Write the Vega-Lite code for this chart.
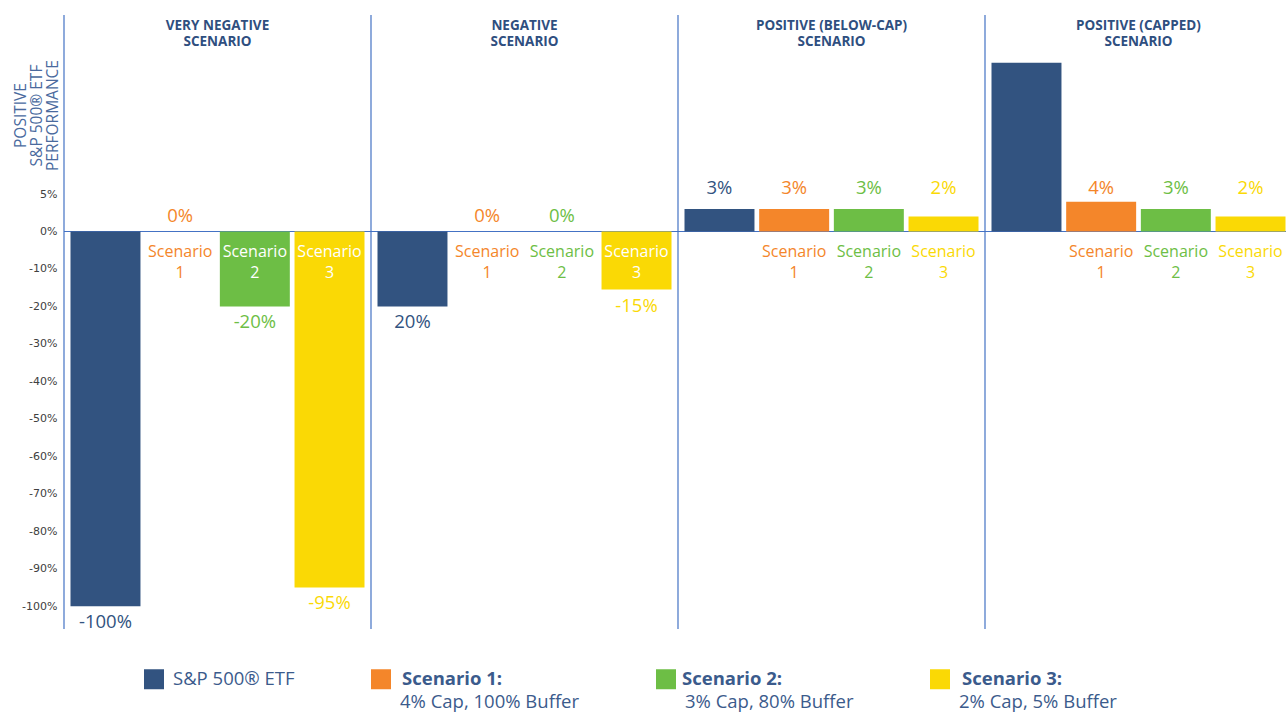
{
  "$schema": "https://vega.github.io/schema/vega-lite/v6.json",
  "width": 1228,
  "height": 614,
  "autosize": "none",
  "padding": {"left": 64, "top": 15, "right": 0, "bottom": 84},
  "background": "white",
  "config": {"view": {"stroke": null}, "font": "Open Sans", "style": {"guide-label": {"lineHeight": 23}}},
  "data": {
    "values": [
      {"panel": "VERY NEGATIVE\nSCENARIO", "series": "S&P 500® ETF", "value": -100, "label": "-100%"},
      {"panel": "VERY NEGATIVE\nSCENARIO", "series": "Scenario 1", "value": 0, "label": "0%"},
      {"panel": "VERY NEGATIVE\nSCENARIO", "series": "Scenario 2", "value": -20, "label": "-20%"},
      {"panel": "VERY NEGATIVE\nSCENARIO", "series": "Scenario 3", "value": -95, "label": "-95%"},
      {"panel": "NEGATIVE\nSCENARIO", "series": "S&P 500® ETF", "value": -20, "label": "20%"},
      {"panel": "NEGATIVE\nSCENARIO", "series": "Scenario 1", "value": 0, "label": "0%"},
      {"panel": "NEGATIVE\nSCENARIO", "series": "Scenario 2", "value": 0, "label": "0%"},
      {"panel": "NEGATIVE\nSCENARIO", "series": "Scenario 3", "value": -15.5, "label": "-15%"},
      {"panel": "POSITIVE (BELOW-CAP)\nSCENARIO", "series": "S&P 500® ETF", "value": 3, "label": "3%"},
      {"panel": "POSITIVE (BELOW-CAP)\nSCENARIO", "series": "Scenario 1", "value": 3, "label": "3%"},
      {"panel": "POSITIVE (BELOW-CAP)\nSCENARIO", "series": "Scenario 2", "value": 3, "label": "3%"},
      {"panel": "POSITIVE (BELOW-CAP)\nSCENARIO", "series": "Scenario 3", "value": 2, "label": "2%"},
      {"panel": "POSITIVE (CAPPED)\nSCENARIO", "series": "S&P 500® ETF", "value": 22.6, "label": ""},
      {"panel": "POSITIVE (CAPPED)\nSCENARIO", "series": "Scenario 1", "value": 4, "label": "4%"},
      {"panel": "POSITIVE (CAPPED)\nSCENARIO", "series": "Scenario 2", "value": 3, "label": "3%"},
      {"panel": "POSITIVE (CAPPED)\nSCENARIO", "series": "Scenario 3", "value": 2, "label": "2%"}
    ]
  },
  "encoding": {
    "x": {"field": "panel", "type": "nominal", "sort": null, "axis": null,
          "scale": {"paddingInner": 0, "paddingOuter": 0}},
    "xOffset": {"field": "series", "type": "nominal", "sort": null,
                "scale": {"paddingInner": 0.063, "paddingOuter": 0.087}}
  },
  "layer": [
    {
      "data": {"values": [{}]},
      "mark": {"type": "rule", "color": "#4472C4", "strokeWidth": 1.2},
      "encoding": {"x": null, "xOffset": null, "y": {"datum": 0, "type": "quantitative"}}
    },
    {
      "transform": [{"filter": "datum.series == 'S&P 500® ETF'"}],
      "mark": {"type": "rule", "color": "#4472C4", "strokeWidth": 1.2},
      "encoding": {"x": {"field": "panel", "type": "nominal", "sort": null, "bandPosition": 0}, "xOffset": null}
    },
    {
      "mark": {"type": "bar"},
      "encoding": {
        "y": {
          "field": "value", "type": "quantitative",
          "scale": {"domain": [-106.1, 0, 29], "range": [614, 216.5, 0], "nice": false, "zero": false},
          "axis": {
            "values": [5, 0, -10, -20, -30, -40, -50, -60, -70, -80, -90, -100],
            "labelExpr": "datum.value + '%'",
            "grid": false, "ticks": false, "domain": false,
            "labelFont": "DejaVu Sans", "labelFontSize": 11, "labelColor": "#404040",
            "labelPadding": 7,
            "title": ["POSITIVE", "S&P 500® ETF", "PERFORMANCE"],
            "titleFont": "Open Sans", "titleFontSize": 15.5, "titleFontWeight": "normal",
            "titleColor": "#4A6A9E", "titleLineHeight": 16,
            "titleAngle": -90, "titleAlign": "center", "titleBaseline": "top",
            "titleX": -51, "titleY": 100
          }
        },
        "color": {
          "field": "series", "type": "nominal",
          "scale": {"domain": ["S&P 500® ETF", "Scenario 1", "Scenario 2", "Scenario 3"],
                    "range": ["#325380", "#F4862A", "#6DBE45", "#FAD905"]},
          "legend": {
            "orient": "none", "direction": "horizontal", "columns": 4,
            "legendX": 80, "legendY": 654, "padding": 0,
            "title": null, "symbolType": "square", "symbolSize": 400,
            "symbolStrokeWidth": 0, "symbolOpacity": 1,
            "labelFont": "Open Sans", "labelFontSize": 18.5, "labelColor": "#3B5B8C",
            "labelOffset": 9, "columnPadding": 76, "labelLimit": 400,
            "labelBaseline": "middle",
            "labelExpr": "datum.label == 'Scenario 1' ? [' ', '4% Cap, 100% Buffer'] : datum.label == 'Scenario 2' ? [' ', '3% Cap, 80% Buffer'] : datum.label == 'Scenario 3' ? [' ', '2% Cap, 5% Buffer'] : [datum.label, ' ']"
          }
        }
      }
    },
    {
      "transform": [{"filter": "datum.series == 'S&P 500® ETF'"}],
      "mark": {"type": "text", "font": "Open Sans", "fontWeight": "bold", "fontSize": 13.5,
               "color": "#2F4F7F", "baseline": "top", "dy": 4, "lineBreak": "\n", "lineHeight": 16},
      "encoding": {
        "xOffset": null,
        "y": {"datum": 29, "type": "quantitative"},
        "text": {"field": "panel"}
      }
    },
    {
      "transform": [{"filter": "datum.series != 'S&P 500® ETF'"}],
      "mark": {"type": "text", "font": "Open Sans", "fontSize": 16, "baseline": "alphabetic",
               "dy": 25, "lineBreak": " ", "lineHeight": 21.6},
      "encoding": {
        "y": {"datum": 0, "type": "quantitative"},
        "text": {"field": "series"},
        "color": {"condition": {"test": "datum.value < -10", "value": "white"},
                  "field": "series", "type": "nominal", "legend": null}
      }
    },
    {
      "transform": [{"filter": "datum.series != 'S&P 500® ETF'"}],
      "mark": {"type": "point", "opacity": 0, "filled": true, "size": 1},
      "encoding": {
        "y": {"datum": 0, "type": "quantitative"},
        "shape": {
          "field": "series", "type": "nominal",
          "scale": {"domain": ["Scenario 1", "Scenario 2", "Scenario 3"], "range": ["square", "square", "square"]},
          "legend": {
            "orient": "none", "direction": "horizontal", "columns": 3,
            "legendX": 309, "legendY": 654, "padding": 0,
            "title": null, "symbolType": "square", "symbolSize": 400,
            "symbolStrokeWidth": 0, "symbolOpacity": 0, "symbolFillColor": "transparent",
            "labelFont": "Open Sans", "labelFontSize": 18.5, "labelFontWeight": "bold",
            "labelColor": "#3B5B8C", "labelOffset": 9, "columnPadding": 150,
            "labelLimit": 400, "labelBaseline": "middle",
            "labelExpr": "[datum.label + ':', ' ']"
          }
        }
      }
    },
    {
      "transform": [{"filter": "datum.value > 0 && datum.label != ''"}],
      "mark": {"type": "text", "font": "Open Sans", "fontSize": 18.5, "baseline": "alphabetic", "dy": -38},
      "encoding": {
        "y": {"datum": 0, "type": "quantitative"},
        "text": {"field": "label"},
        "color": {"field": "series", "type": "nominal", "legend": null}
      }
    },
    {
      "transform": [{"filter": "datum.value == 0"}],
      "mark": {"type": "text", "font": "Open Sans", "fontSize": 18.5, "baseline": "alphabetic", "dy": -9.5},
      "encoding": {
        "y": {"datum": 0, "type": "quantitative"},
        "text": {"field": "label"},
        "color": {"field": "series", "type": "nominal", "legend": null}
      }
    },
    {
      "transform": [{"filter": "datum.value < 0"}],
      "mark": {"type": "text", "font": "Open Sans", "fontSize": 18.5, "baseline": "middle", "dy": 16},
      "encoding": {
        "y": {"field": "value", "type": "quantitative"},
        "text": {"field": "label"},
        "color": {"field": "series", "type": "nominal", "legend": null}
      }
    }
  ]
}
